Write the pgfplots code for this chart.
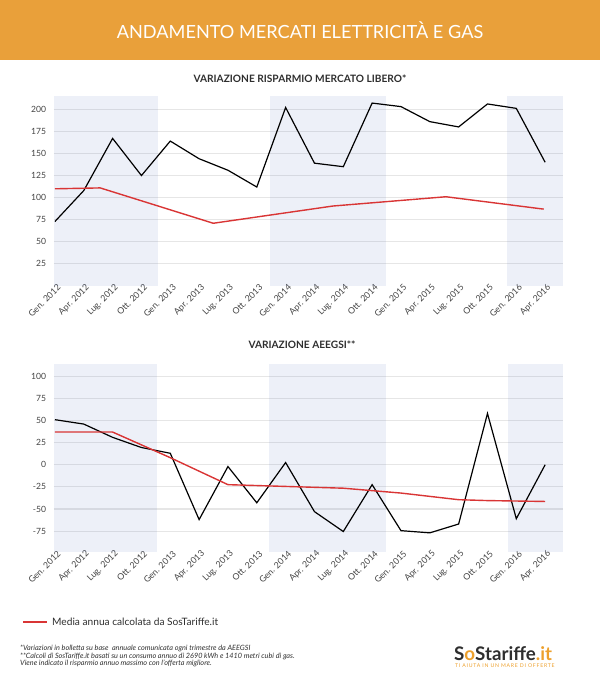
\documentclass[border=0pt]{standalone}
\usepackage{pgfplots}
\pgfplotsset{compat=1.18}
\usepackage{fontspec}
\setmainfont{Lato}
\definecolor{headorange}{HTML}{E9A03A}
\definecolor{bandc}{HTML}{4B69B9}
\definecolor{gridc}{HTML}{E6E6E6}
\definecolor{redl}{HTML}{D93535}
\definecolor{txt}{HTML}{2E2E2E}
\definecolor{ticktxt}{HTML}{444444}
\definecolor{logoorange}{HTML}{EDA02C}

\pgfplotsset{
  mystyle/.style={
    scale only axis,
    width=509.8bp,
    xmin=-0.05, xmax=17.63,
    axis line style={draw=none},
    tick style={draw=none},
    ymajorgrids,
    grid style={line width=1.1bp, color=gridc},
    xtick={0,...,17},
    xticklabels={Gen. 2012,Apr. 2012,Lug. 2012,Ott. 2012,Gen. 2013,Apr. 2013,Lug. 2013,Ott. 2013,Gen. 2014,Apr. 2014,Lug. 2014,Ott. 2014,Gen. 2015,Apr. 2015,Lug. 2015,Ott. 2015,Gen. 2016,Apr. 2016},
    xticklabel style={rotate=45, anchor=east, font=\fontsize{8.8}{8.8}\selectfont, text=ticktxt, inner sep=1bp, xshift=4bp, yshift=-3bp},
    yticklabel style={font=\fontsize{8.6}{8.6}\selectfont, text=ticktxt, xshift=-4bp},
  },
  bandstyle/.style={fill=bandc, fill opacity=0.1, draw=none, forget plot},
  blk/.style={black, line width=1.2bp, mark=none},
  redline/.style={redl, line width=1.4bp, mark=none},
}

\begin{document}
\begin{tikzpicture}[x=1bp,y=1bp]
\path[use as bounding box] (0,0) rectangle (600,-679);
\fill[headorange] (0,0) rectangle (600,-60);
\node[text=white, font=\fontsize{18.2}{18.2}\selectfont] at (300,-30) {ANDAMENTO MERCATI ELETTRICITÀ E GAS};
\node[text=txt, font=\fontsize{10.2}{10.2}\selectfont\bfseries] at (300,-79) {VARIAZIONE RISPARMIO MERCATO LIBERO*};

\begin{axis}[mystyle, at={(53.5bp,-286bp)}, anchor=south west, height=190bp,
  ymin=0, ymax=215,
  ytick={25,50,75,100,125,150,175,200},
  yticklabels={25,50,75,100,125,150,175,200}]
\addplot[bandstyle] coordinates {(-0.05,0)(3.57,0)(3.57,215)(-0.05,215)} -- cycle;
\addplot[bandstyle] coordinates {(7.46,0)(11.48,0)(11.48,215)(7.46,215)} -- cycle;
\addplot[bandstyle] coordinates {(15.69,0)(17.63,0)(17.63,215)(15.69,215)} -- cycle;
\addplot[blk] coordinates {(0,73)(1,108)(2,167)(3,125)(4,164)(5,144)(6,131)(7,112)(8,202)(9,139)(10,135)(11,207)(12,203)(13,186)(14,180)(15,206)(16,201)(17,140)};
\addplot[redline] coordinates {(0,110)(1.57,111)(5.49,71)(9.64,90.5)(13.56,101)(16.95,87)};
\end{axis}

\node[text=txt, font=\fontsize{10.2}{10.2}\selectfont\bfseries] at (302,-345) {VARIAZIONE AEEGSI**};

\begin{axis}[mystyle, at={(53.5bp,-552.3bp)}, anchor=south west, height=188.8bp,
  ymin=-99, ymax=114.5,
  ytick={-75,-50,-25,0,25,50,75,100},
  yticklabels={-75,-50,-25,0,25,50,75,100}]
\addplot[bandstyle] coordinates {(-0.05,-99)(3.54,-99)(3.54,114.5)(-0.05,114.5)} -- cycle;
\addplot[bandstyle] coordinates {(7.42,-99)(11.47,-99)(11.47,114.5)(7.42,114.5)} -- cycle;
\addplot[bandstyle] coordinates {(15.7,-99)(17.63,-99)(17.63,114.5)(15.7,114.5)} -- cycle;
\addplot[blk] coordinates {(0,51)(1,46)(2,31)(3,19.5)(4,13)(5,-62)(6,-2)(7,-43)(8,2.5)(9,-53)(10,-75.5)(11,-22.5)(12,-74.5)(13,-77)(14,-67)(15,58)(16,-61)(17,0)};
\addplot[redline] coordinates {(0,37)(2,37)(4,8)(6,-22.5)(8,-24.5)(10,-26.5)(12,-32)(14,-39.5)(15,-40.5)(17,-41.5)};
\end{axis}

% legend
\draw[redl, line width=1.4bp] (23,-622) -- (47,-622);
\node[anchor=west, text=txt, font=\fontsize{10.2}{10.2}\selectfont, inner sep=0] at (52,-622) {Media annua calcolata da SosTariffe.it};

% footnotes
\node[anchor=north west, align=left, text=txt, font=\fontsize{7.3}{7.6}\selectfont\itshape, inner sep=0] at (20,-645)
{*Variazioni in bolletta su base\ \ annuale comunicata ogni trimestre da AEEGSI\\
**Calcoli di SosTariffe.it basati su un consumo annuo di 2690 kWh e 1410 metri cubi di gas.\\
Viene indicato il risparmio annuo massimo con l'offerta migliore.};

% logo
\node[anchor=base west, inner sep=0, font=\fontsize{18.8}{18.8}\selectfont\bfseries, text=txt] at (454,-660)
{S\textcolor{logoorange}{o}Stariffe\textcolor{logoorange}{.it}};
\node[anchor=base west, inner sep=0, font=\fontsize{5.2}{5.2}\selectfont\addfontfeature{LetterSpace=14}, text=logoorange] at (455,-667.5)
{TI AIUTA IN UN MARE DI OFFERTE};
\end{tikzpicture}
\end{document}
